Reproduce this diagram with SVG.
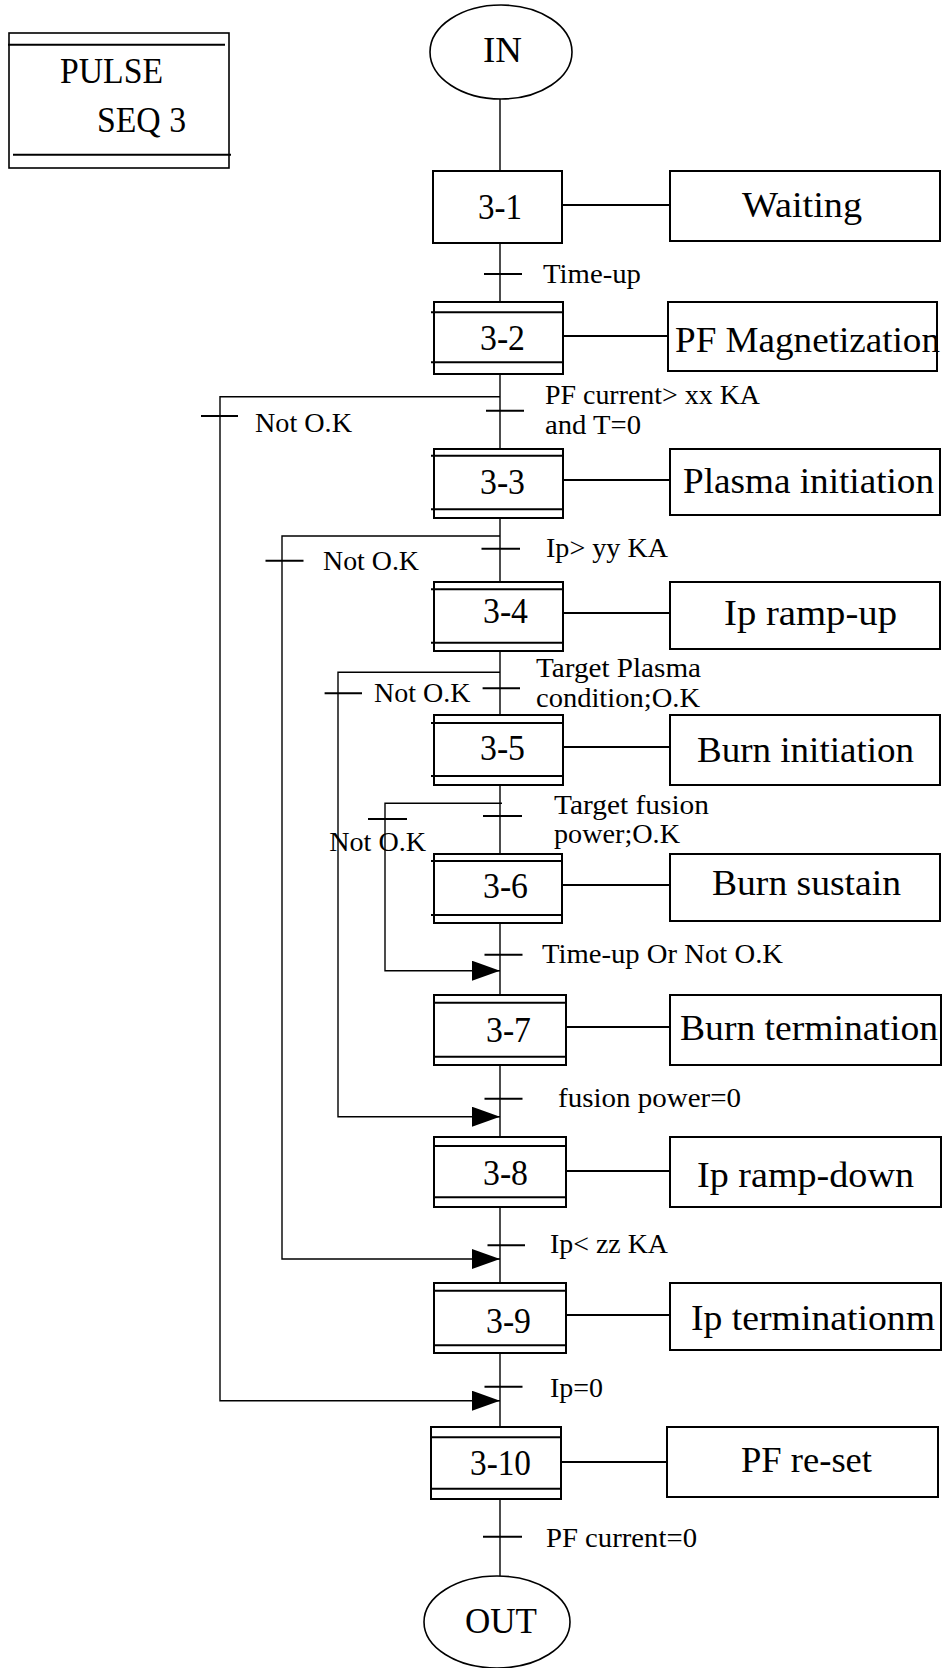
<svg xmlns="http://www.w3.org/2000/svg" width="943" height="1668" viewBox="0 0 943 1668">
<defs>
<style>
.bx{fill:#fff;stroke:#000;stroke-width:2}
.ln{fill:none;stroke:#000;stroke-width:1.4}
.al{fill:none;stroke:#000;stroke-width:2}
.big{font-family:"Liberation Serif","Times New Roman",serif;font-size:35px;fill:#000}
.sm{font-family:"Liberation Serif","Times New Roman",serif;font-size:28px;fill:#000}
</style>
<marker id="ah" markerUnits="userSpaceOnUse" markerWidth="29" markerHeight="21" refX="28" refY="10" orient="auto" viewBox="0 0 29 21">
<path d="M0,0 L28,10 L0,20 Z" fill="#000"/>
</marker>
</defs>
<rect width="943" height="1668" fill="#fff"/>

<g id="connectors">
<line class="ln" x1="500" y1="99" x2="500" y2="1576"/>
<line class="al" x1="562" y1="205" x2="670" y2="205"/>
<line class="al" x1="563" y1="336" x2="668" y2="336"/>
<line class="al" x1="563" y1="480" x2="670" y2="480"/>
<line class="al" x1="563" y1="613" x2="670" y2="613"/>
<line class="al" x1="563" y1="747" x2="670" y2="747"/>
<line class="al" x1="562" y1="885" x2="670" y2="885"/>
<line class="al" x1="566" y1="1027" x2="670" y2="1027"/>
<line class="al" x1="566" y1="1171" x2="670" y2="1171"/>
<line class="al" x1="566" y1="1315" x2="670" y2="1315"/>
<line class="al" x1="561" y1="1462" x2="667" y2="1462"/>
<line class="al" x1="484" y1="274" x2="522" y2="274"/>
<line class="al" x1="486" y1="410.7" x2="524" y2="410.7"/>
<line class="al" x1="481.5" y1="548.7" x2="520" y2="548.7"/>
<line class="al" x1="482.6" y1="688.3" x2="520" y2="688.3"/>
<line class="al" x1="483" y1="816" x2="522" y2="816"/>
<line class="al" x1="484.5" y1="954.7" x2="522.5" y2="954.7"/>
<line class="al" x1="484.5" y1="1098.7" x2="522.5" y2="1098.7"/>
<line class="al" x1="487.5" y1="1245.3" x2="525" y2="1245.3"/>
<line class="al" x1="484.5" y1="1386.7" x2="522.5" y2="1386.7"/>
<line class="al" x1="483" y1="1536.7" x2="522" y2="1536.7"/>
<polyline class="ln" points="500,396.7 220,396.7 220,1400.7 500,1400.7" marker-end="url(#ah)"/>
<polyline class="ln" points="500,536 282,536 282,1259 500,1259" marker-end="url(#ah)"/>
<polyline class="ln" points="500,672.3 338,672.3 338,1116.7 500,1116.7" marker-end="url(#ah)"/>
<polyline class="ln" points="502,803.3 385,803.3 385,970.7 500,970.7" marker-end="url(#ah)"/>
<line class="al" x1="201" y1="416" x2="238" y2="416"/>
<line class="al" x1="265.5" y1="560.7" x2="303.5" y2="560.7"/>
<line class="al" x1="324.6" y1="693.3" x2="362" y2="693.3"/>
<line class="al" x1="368" y1="819" x2="407" y2="819"/>
<text class="sm" x="543" y="283" textLength="98" lengthAdjust="spacingAndGlyphs">Time-up</text>
<text class="sm" x="545" y="404" textLength="215" lengthAdjust="spacingAndGlyphs">PF current&gt; xx KA</text>
<text class="sm" x="545" y="434" textLength="96" lengthAdjust="spacingAndGlyphs">and T=0</text>
<text class="sm" x="255" y="431.7" textLength="97" lengthAdjust="spacingAndGlyphs">Not O.K</text>
<text class="sm" x="323" y="570" textLength="96" lengthAdjust="spacingAndGlyphs">Not O.K</text>
<text class="sm" x="546" y="557" textLength="122" lengthAdjust="spacingAndGlyphs">Ip&gt; yy KA</text>
<text class="sm" x="536" y="677.3" textLength="165" lengthAdjust="spacingAndGlyphs">Target Plasma</text>
<text class="sm" x="536" y="706.7" textLength="164" lengthAdjust="spacingAndGlyphs">condition;O.K</text>
<text class="sm" x="374" y="701.7" textLength="96.5" lengthAdjust="spacingAndGlyphs">Not O.K</text>
<text class="sm" x="554" y="814" textLength="155" lengthAdjust="spacingAndGlyphs">Target fusion</text>
<text class="sm" x="554" y="842.7" textLength="126" lengthAdjust="spacingAndGlyphs">power;O.K</text>
<text class="sm" x="329.3" y="851" textLength="96.7" lengthAdjust="spacingAndGlyphs">Not O.K</text>
<text class="sm" x="542" y="963.3" textLength="241" lengthAdjust="spacingAndGlyphs">Time-up Or Not O.K</text>
<text class="sm" x="558" y="1106.7" textLength="183" lengthAdjust="spacingAndGlyphs">fusion power=0</text>
<text class="sm" x="550" y="1253.3" textLength="118" lengthAdjust="spacingAndGlyphs">Ip&lt; zz KA</text>
<text class="sm" x="550" y="1396.7" textLength="53" lengthAdjust="spacingAndGlyphs">Ip=0</text>
<text class="sm" x="546" y="1546.7" textLength="151" lengthAdjust="spacingAndGlyphs">PF current=0</text>
</g>

<g id="title">
<rect x="9" y="33" width="220" height="135" fill="#fff" stroke="#000" stroke-width="1.6"/>
<line class="al" x1="8" y1="44.7" x2="225" y2="44.7"/>
<line class="al" x1="13" y1="154.7" x2="231" y2="154.7"/>
<text class="big" x="60" y="83" textLength="103" lengthAdjust="spacingAndGlyphs">PULSE</text>
<text class="big" x="97" y="131.7" textLength="89" lengthAdjust="spacingAndGlyphs">SEQ 3</text>
</g>

<g id="in">
<ellipse cx="501" cy="52" rx="71" ry="47" fill="#fff" stroke="#000" stroke-width="1.6"/>
<text class="big" x="483" y="62" textLength="39" lengthAdjust="spacingAndGlyphs">IN</text>
</g>

<g id="s3-1">
<rect class="bx" x="433" y="171" width="129" height="72"/>
<text class="big" x="478" y="219" textLength="44" lengthAdjust="spacingAndGlyphs">3-1</text>
</g>
<g id="s3-2">
<rect class="bx" x="434" y="302" width="129" height="72"/>
<line class="al" x1="431" y1="312.3" x2="563" y2="312.3"/>
<line class="al" x1="431" y1="362.3" x2="563" y2="362.3"/>
<text class="big" x="480" y="350" textLength="45" lengthAdjust="spacingAndGlyphs">3-2</text>
</g>
<g id="s3-3">
<rect class="bx" x="434" y="449" width="129" height="69"/>
<line class="al" x1="431" y1="455.7" x2="563" y2="455.7"/>
<line class="al" x1="431" y1="509.3" x2="563" y2="509.3"/>
<text class="big" x="480" y="494.3" textLength="45" lengthAdjust="spacingAndGlyphs">3-3</text>
</g>
<g id="s3-4">
<rect class="bx" x="434" y="582" width="129" height="69"/>
<line class="al" x1="431" y1="589.3" x2="563" y2="589.3"/>
<line class="al" x1="431" y1="642.7" x2="563" y2="642.7"/>
<text class="big" x="483" y="623.3" textLength="45" lengthAdjust="spacingAndGlyphs">3-4</text>
</g>
<g id="s3-5">
<rect class="bx" x="434" y="715" width="129" height="70"/>
<line class="al" x1="431" y1="723" x2="563" y2="723"/>
<line class="al" x1="431" y1="776" x2="563" y2="776"/>
<text class="big" x="480" y="760" textLength="45" lengthAdjust="spacingAndGlyphs">3-5</text>
</g>
<g id="s3-6">
<rect class="bx" x="434" y="854" width="128" height="69"/>
<line class="al" x1="431" y1="861" x2="562" y2="861"/>
<line class="al" x1="431" y1="915" x2="562" y2="915"/>
<text class="big" x="483" y="898.3" textLength="45" lengthAdjust="spacingAndGlyphs">3-6</text>
</g>
<g id="s3-7">
<rect class="bx" x="434" y="995" width="132" height="70"/>
<line class="al" x1="434" y1="1002.7" x2="566" y2="1002.7"/>
<line class="al" x1="434" y1="1056.7" x2="566" y2="1056.7"/>
<text class="big" x="486" y="1041.7" textLength="45" lengthAdjust="spacingAndGlyphs">3-7</text>
</g>
<g id="s3-8">
<rect class="bx" x="434" y="1137" width="132" height="70"/>
<line class="al" x1="434" y1="1146" x2="566" y2="1146"/>
<line class="al" x1="434" y1="1197.3" x2="566" y2="1197.3"/>
<text class="big" x="483" y="1185" textLength="45" lengthAdjust="spacingAndGlyphs">3-8</text>
</g>
<g id="s3-9">
<rect class="bx" x="434" y="1283" width="132" height="70"/>
<line class="al" x1="434" y1="1290.7" x2="566" y2="1290.7"/>
<line class="al" x1="434" y1="1345.3" x2="566" y2="1345.3"/>
<text class="big" x="486" y="1333.3" textLength="45" lengthAdjust="spacingAndGlyphs">3-9</text>
</g>
<g id="s3-10">
<rect class="bx" x="431" y="1427" width="130" height="72"/>
<line class="al" x1="431" y1="1437.3" x2="561" y2="1437.3"/>
<line class="al" x1="431" y1="1488.7" x2="561" y2="1488.7"/>
<text class="big" x="470" y="1475" textLength="61" lengthAdjust="spacingAndGlyphs">3-10</text>
</g>

<g id="a-waiting">
<rect class="bx" x="670" y="171" width="270" height="70"/>
<text class="big" x="742" y="217" textLength="120" lengthAdjust="spacingAndGlyphs">Waiting</text>
</g>
<g id="a-pfmag">
<rect class="bx" x="668" y="302" width="269" height="69"/>
<text class="big" x="675" y="352" textLength="265" lengthAdjust="spacingAndGlyphs">PF Magnetization</text>
</g>
<g id="a-plasma">
<rect class="bx" x="670" y="449" width="270" height="66"/>
<text class="big" x="683" y="493.3" textLength="251" lengthAdjust="spacingAndGlyphs">Plasma initiation</text>
</g>
<g id="a-rampup">
<rect class="bx" x="670" y="582" width="270" height="67"/>
<text class="big" x="724" y="625" textLength="173" lengthAdjust="spacingAndGlyphs">Ip ramp-up</text>
</g>
<g id="a-burninit">
<rect class="bx" x="670" y="715" width="270" height="70"/>
<text class="big" x="697" y="761.7" textLength="217" lengthAdjust="spacingAndGlyphs">Burn initiation</text>
</g>
<g id="a-burnsus">
<rect class="bx" x="670" y="854" width="270" height="67"/>
<text class="big" x="712" y="895" textLength="189" lengthAdjust="spacingAndGlyphs">Burn sustain</text>
</g>
<g id="a-burnterm">
<rect class="bx" x="670" y="995" width="271" height="70"/>
<text class="big" x="680" y="1040" textLength="258" lengthAdjust="spacingAndGlyphs">Burn termination</text>
</g>
<g id="a-rampdown">
<rect class="bx" x="670" y="1137" width="271" height="70"/>
<text class="big" x="697" y="1186.7" textLength="217" lengthAdjust="spacingAndGlyphs">Ip ramp-down</text>
</g>
<g id="a-ipterm">
<rect class="bx" x="670" y="1283" width="271" height="67"/>
<text class="big" x="691" y="1330" textLength="244" lengthAdjust="spacingAndGlyphs">Ip terminationm</text>
</g>
<g id="a-pfreset">
<rect class="bx" x="667" y="1427" width="271" height="70"/>
<text class="big" x="741" y="1471.7" textLength="131" lengthAdjust="spacingAndGlyphs">PF re-set</text>
</g>

<g id="out">
<ellipse cx="497" cy="1622" rx="73" ry="46" fill="#fff" stroke="#000" stroke-width="1.6"/>
<text class="big" x="465" y="1633" textLength="72" lengthAdjust="spacingAndGlyphs">OUT</text>
</g>
</svg>
